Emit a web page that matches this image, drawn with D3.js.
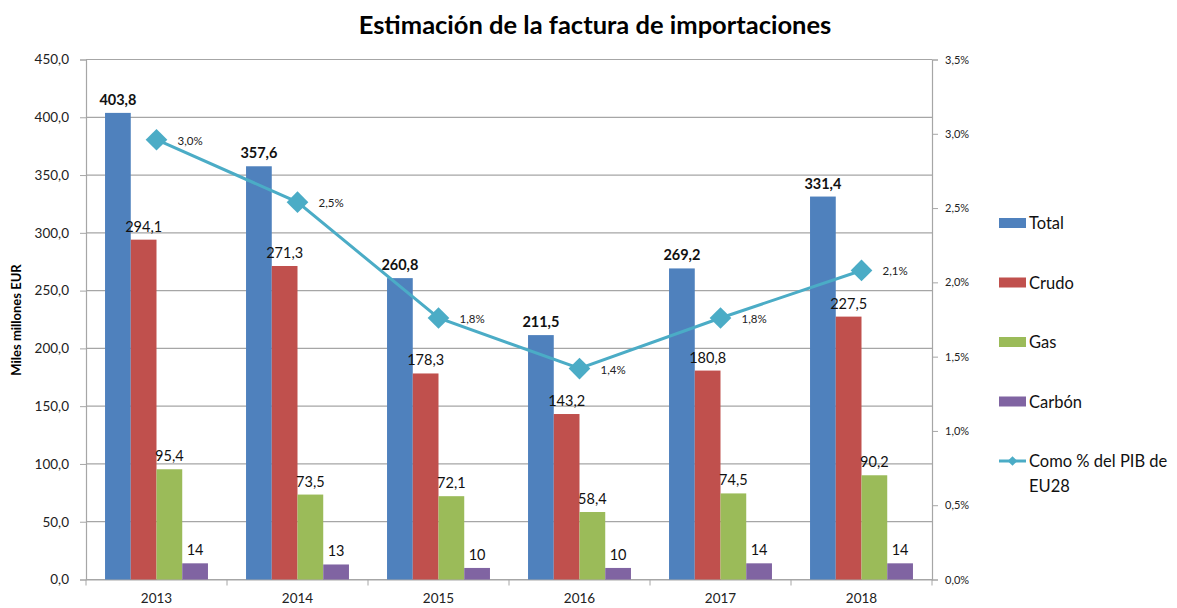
<!DOCTYPE html>
<html><head><meta charset="utf-8">
<script src="https://cdn.jsdelivr.net/npm/d3@7"></script>
<style>body{margin:0;background:#fff}svg{display:block}text{font-family:Lato,"Open Sans",sans-serif}</style>
</head><body>
<svg id="c" width="1177" height="608"></svg>
<script>
const years = ["2013","2014","2015","2016","2017","2018"];
const total = [403.8, 357.6, 260.8, 211.5, 269.2, 331.4];
const crudo = [294.1, 271.3, 178.3, 143.2, 180.8, 227.5];
const gas = [95.4, 73.5, 72.1, 58.4, 74.5, 90.2];
const carbon = [14, 13, 10, 10, 14, 14];
const pctPIB = [2.96, 2.54, 1.76, 1.42, 1.76, 2.08];
const pctLabels = ["3,0%","2,5%","1,8%","1,4%","1,8%","2,1%"];
const seriesNames = ["Total","Crudo","Gas","Carbón"];
const lineName = ["Como % del PIB de","EU28"];
const leftTicks = [0,50,100,150,200,250,300,350,400,450];
const rightTicks = [0,0.5,1,1.5,2,2.5,3,3.5];

const colors = ["#4F81BD","#C0504D","#9BBB59","#8064A2"];
const lineColor = "#4BACC6";
const svg = d3.select("#c");
const L = 86, R = 932, T = 59.5, B = 579.5;

const x0 = d3.scaleBand().domain(years).range([L, R]).paddingInner(0.27).paddingOuter(0.135);
const x1 = d3.scaleBand().domain(seriesNames).range([0, x0.bandwidth()]);
const y = d3.scaleLinear().domain([0,450]).range([B, T]);
const y2 = d3.scaleLinear().domain([0,3.5]).range([B, T]);
const xc = d3.scalePoint().domain(years).range([L, R]).padding(0.5);

const fmt1 = v => d3.format(".1f")(v).replace(".", ",");

// title
svg.append("text").attr("x", 595).attr("y", 34).attr("text-anchor","middle")
  .attr("font-size", 25.5).attr("font-weight","bold").text("Estimación de la factura de importaciones");

// gridlines
svg.append("g").selectAll("line").data(leftTicks).join("line")
  .attr("x1", L).attr("x2", R).attr("y1", d=>y(d)).attr("y2", d=>y(d))
  .attr("stroke","#a6a6a6").attr("stroke-width",1.2);

// left axis
const gl = svg.append("g").attr("transform",`translate(${L},0)`)
  .call(d3.axisLeft(y).tickValues(leftTicks).tickSize(6).tickFormat(fmt1));
gl.select(".domain").attr("stroke","#a6a6a6").attr("stroke-width",1.2);
gl.selectAll(".tick line").attr("stroke","#a6a6a6");
gl.selectAll(".tick text").attr("font-size",13.5).attr("fill","#222").attr("dx",-8).attr("font-family","Lato,sans-serif");

// right axis
const gr = svg.append("g").attr("transform",`translate(${R},0)`)
  .call(d3.axisRight(y2).tickValues(rightTicks).tickSize(6).tickFormat(d=>d3.format(".1f")(d).replace(".",",")+"%"));
gr.select(".domain").attr("stroke","#a6a6a6").attr("stroke-width",1.2);
gr.selectAll(".tick line").attr("stroke","#a6a6a6");
gr.selectAll(".tick text").attr("font-size",11).attr("fill","#222").attr("dx",4).attr("font-family","Lato,sans-serif");

// bottom axis
const gb = svg.append("g").attr("transform",`translate(0,${B})`)
  .call(d3.axisBottom(x0).tickSize(6).tickSizeOuter(0));
gb.select(".domain").attr("stroke","#a6a6a6").attr("stroke-width",1.2);
gb.selectAll(".tick line").remove();
gb.selectAll(".tick text").attr("font-size",13.5).attr("fill","#222").attr("dy",14).attr("font-family","Lato,sans-serif");
// category boundary ticks
svg.append("g").selectAll("line").data(d3.range(years.length+1)).join("line")
  .attr("x1", i=>L+i*(R-L)/years.length).attr("x2", i=>L+i*(R-L)/years.length)
  .attr("y1", B).attr("y2", B+6).attr("stroke","#a6a6a6");

// y title
svg.append("text").attr("transform","translate(21,320) rotate(-90)").attr("text-anchor","middle")
  .attr("font-size",13).attr("font-weight","bold").text("Miles millones EUR");

// bars
const seriesData = [total, crudo, gas, carbon];
seriesData.forEach((vals, si) => {
  const g = svg.append("g");
  g.selectAll("rect").data(vals).join("rect")
    .attr("x", (d,i)=>x0(years[i]) + x1(seriesNames[si]))
    .attr("y", d=>y(d)).attr("width", x1.bandwidth()).attr("height", d=>B - y(d))
    .attr("fill", colors[si]);
  g.selectAll("text").data(vals).join("text")
    .attr("x", (d,i)=>x0(years[i]) + x1(seriesNames[si]) + x1.bandwidth()/2)
    .attr("y", d=>y(d) - 8).attr("text-anchor","middle")
    .attr("font-size",14.5).attr("font-weight", si===0 ? "bold" : "normal").attr("fill","#111")
    .text(d => si===3 ? d3.format("d")(d) : fmt1(d));
});

// line
const lineGen = d3.line().x((d,i)=>xc(years[i])).y(d=>y2(d));
svg.append("path").datum(pctPIB).attr("d", lineGen).attr("fill","none")
  .attr("stroke", lineColor).attr("stroke-width", 3);
svg.append("g").selectAll("path").data(pctPIB).join("path")
  .attr("transform",(d,i)=>`translate(${xc(years[i])},${y2(d)})`)
  .attr("d", d3.symbol().type(d3.symbolDiamond2).size(300)())
  .attr("fill", lineColor);
svg.append("g").selectAll("text").data(pctPIB).join("text")
  .attr("x",(d,i)=>xc(years[i]) + 21).attr("y", d=>y2(d)+5)
  .attr("font-size",11.5).attr("fill","#222").text((d,i)=>pctLabels[i]);

// legend
const lg = svg.append("g");
seriesNames.forEach((n,i)=>{
  const yy = 223 + i*59.5;
  lg.append("rect").attr("x",999).attr("y",yy-5).attr("width",27).attr("height",10).attr("fill",colors[i]);
  lg.append("text").attr("x",1029).attr("y",yy+6).attr("font-size",16.5).attr("fill","#111").text(n);
});
const ly = 223 + 4*59.5;
lg.append("line").attr("x1",999).attr("x2",1026).attr("y1",ly).attr("y2",ly).attr("stroke",lineColor).attr("stroke-width",3);
lg.append("path").attr("transform",`translate(1012.5,${ly})`).attr("d", d3.symbol().type(d3.symbolDiamond2).size(60)()).attr("fill",lineColor);
lg.append("text").attr("x",1029).attr("y",ly+6).attr("font-size",16.5).attr("fill","#111").text(lineName[0]);
lg.append("text").attr("x",1029).attr("y",ly+31).attr("font-size",16.5).attr("fill","#111").text(lineName[1]);
</script>
</body></html>
